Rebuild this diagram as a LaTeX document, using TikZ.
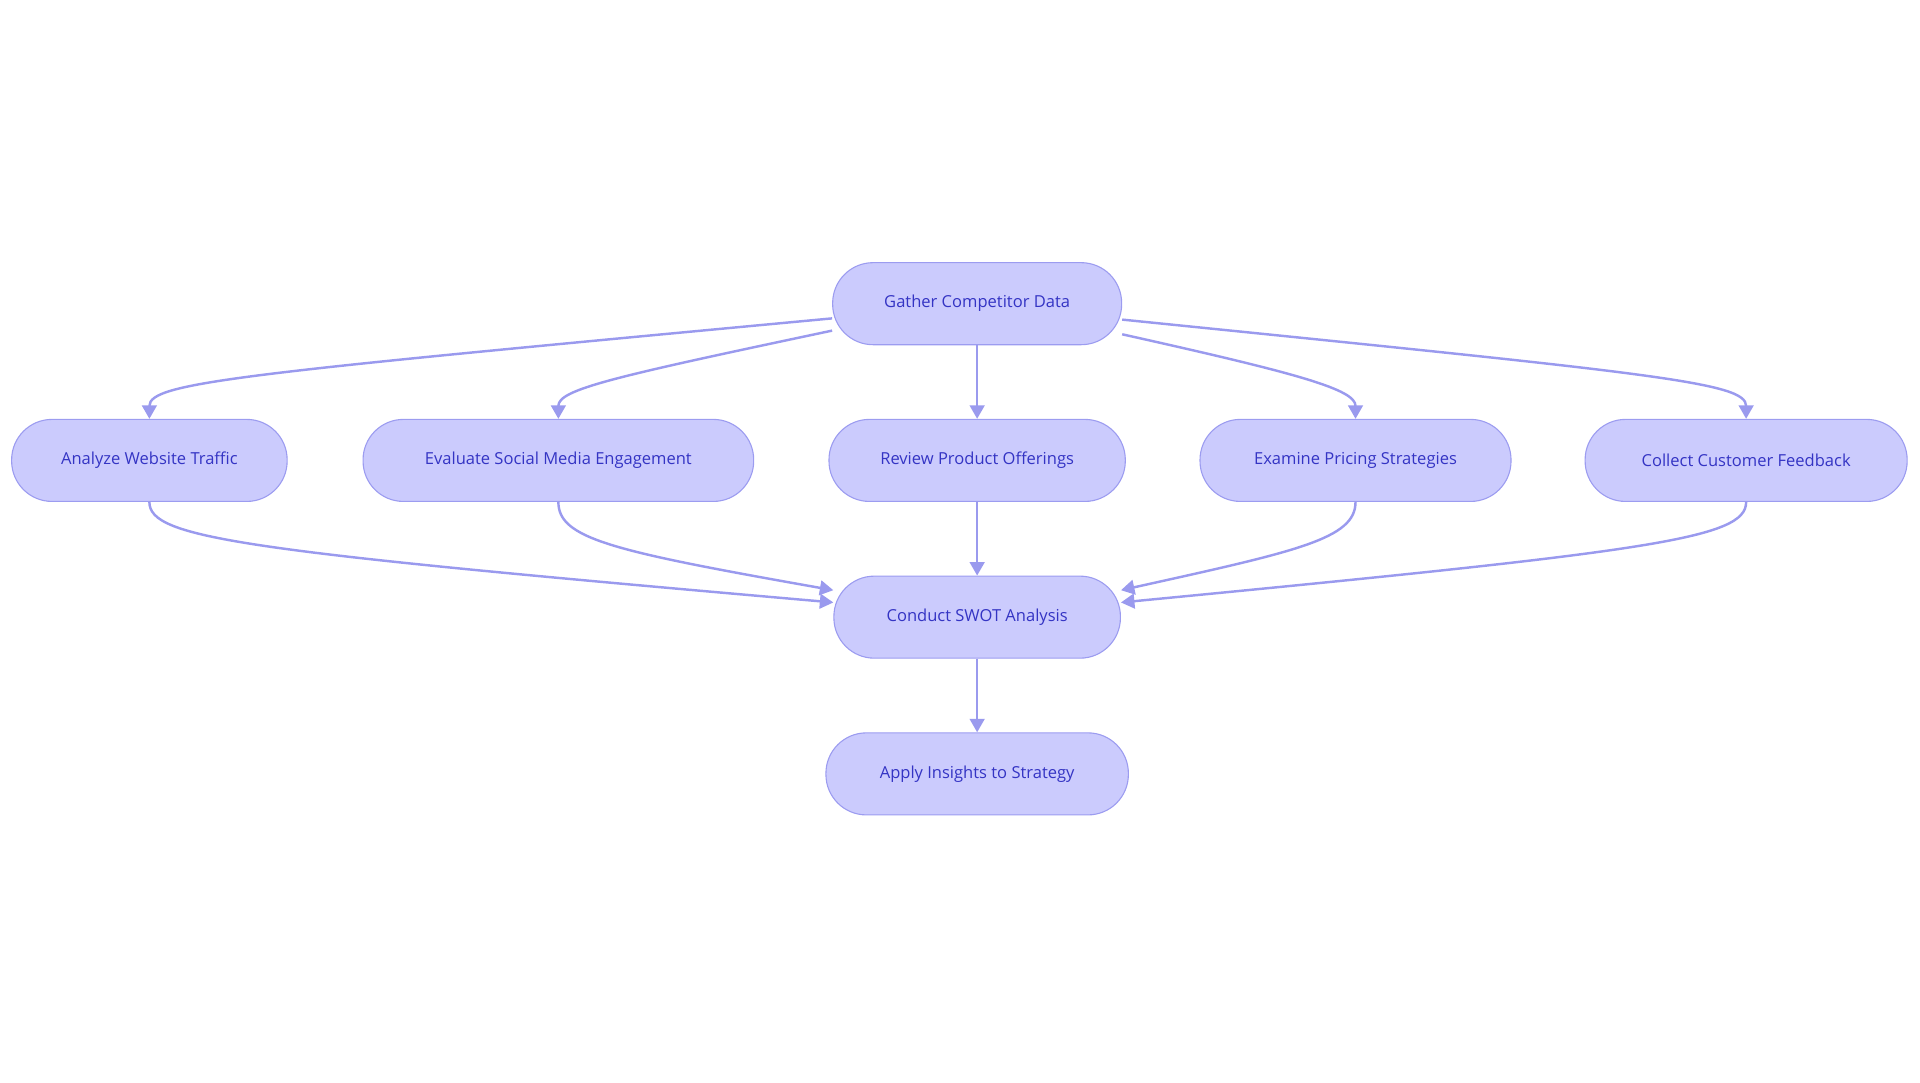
\documentclass[tikz,border=0pt]{standalone}
\usepackage{fontspec}
\setmainfont{Open Sans}
\usetikzlibrary{arrows.meta}
\definecolor{nfill}{HTML}{CBCBFD}
\definecolor{nline}{HTML}{9C9CF0}
\definecolor{ntext}{HTML}{3434C4}
\definecolor{aline}{HTML}{9A9AEE}
\begin{document}
\begin{tikzpicture}[x=1pt,y=-1pt,
  box/.style={draw=nline,fill=nfill,rounded corners=33pt,minimum height=67pt,text=ntext,font=\fontsize{13.5}{16}\selectfont,line width=0.9pt},
  conn/.style={draw=aline,line width=2pt,-{Triangle[length=11pt,width=12pt]}}]
\useasboundingbox (0,0) rectangle (1568,884);
\node[box,minimum width=236pt] (g) at (798,248) {Gather Competitor Data};
\node[box,minimum width=225pt] (a) at (122,376) {Analyze Website Traffic};
\node[box,minimum width=319pt] (e) at (456,376) {Evaluate Social Media Engagement};
\node[box,minimum width=242pt] (r) at (798,376) {Review Product Offerings};
\node[box,minimum width=254pt] (x) at (1107,376) {Examine Pricing Strategies};
\node[box,minimum width=263pt] (c) at (1426,376) {Collect Customer Feedback};
\node[box,minimum width=234pt] (s) at (798,504) {Conduct SWOT Analysis};
\node[box,minimum width=247pt] (p) at (798,632) {Apply Insights to Strategy};
\draw[conn] (g.west |- 0,260) .. controls (200,305) and (122,312) .. (a.north);
\draw[conn] (g.west |- 0,270) .. controls (500,308) and (456,318) .. (e.north);
\draw[conn] (g) -- (r);
\draw[conn] (g.east |- 0,273) .. controls (1060,305) and (1107,318) .. (x.north);
\draw[conn] (g.east |- 0,261) .. controls (1350,305) and (1426,312) .. (c.north);
\draw[conn] (a.south) .. controls (122,440) and (200,450) .. (s.west |- 0,492);
\draw[conn] (e.south) .. controls (456,440) and (500,450) .. (s.west |- 0,482);
\draw[conn] (r) -- (s);
\draw[conn] (x.south) .. controls (1107,440) and (1060,450) .. (s.east |- 0,482);
\draw[conn] (c.south) .. controls (1426,440) and (1350,450) .. (s.east |- 0,492);
\draw[conn] (s) -- (p);
\end{tikzpicture}
\end{document}
